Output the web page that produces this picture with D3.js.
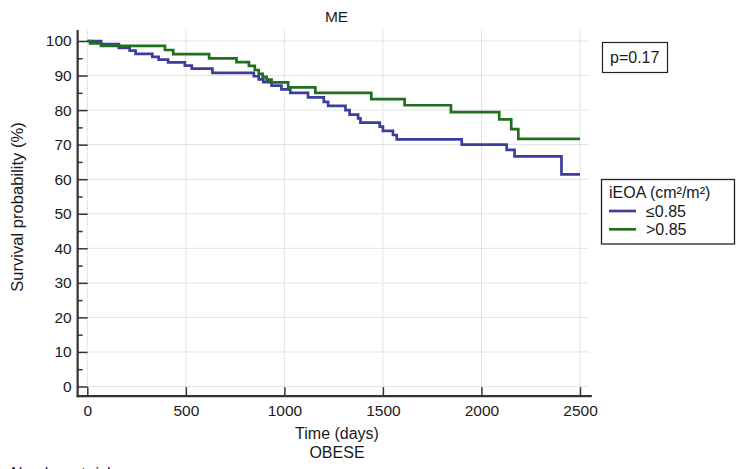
<!DOCTYPE html>
<html>
<head>
<meta charset="utf-8">
<script src="https://cdn.jsdelivr.net/npm/d3@7/dist/d3.min.js"></script>
<style>
  html, body { margin: 0; padding: 0; background: #fff; }
  svg { display: block; font-family: "Liberation Sans", Arial, sans-serif; }
</style>
</head>
<body>
<svg id="chart" width="737" height="469"></svg>
<script>
// ---- data ----
const title = "ME";
const subtitle = "OBESE";
const xTicks = [0, 500, 1000, 1500, 2000, 2500];
const yTicks = [0, 10, 20, 30, 40, 50, 60, 70, 80, 90, 100];
const yMinorTicks = [5, 15, 25, 35, 45, 55, 65, 75, 85, 95];
const seriesNames = ["\u22640.85", ">0.85"];
const lowTimes = [0, 70, 160, 215, 245, 330, 362, 410, 495, 530, 635, 845, 870, 893, 935, 985, 1030, 1120, 1200, 1222, 1310, 1331, 1374, 1386, 1484, 1500, 1551, 1570, 1900, 2128, 2168, 2406, 2500];
const lowSurv  = [100, 99.1, 98.0, 97.2, 96.3, 95.4, 94.6, 93.8, 92.9, 92.0, 90.8, 89.8, 88.9, 88.1, 87.1, 86.0, 85.0, 83.7, 82.4, 81.2, 80.0, 78.7, 77.6, 76.4, 75.2, 74.0, 72.8, 71.5, 70.0, 68.5, 66.6, 61.4, 61.4];
const highTimes = [0, 14, 70, 394, 436, 618, 757, 820, 850, 870, 890, 910, 935, 1019, 1157, 1441, 1610, 1845, 2090, 2151, 2187, 2500];
const highSurv  = [100, 99.3, 98.6, 97.4, 96.2, 95.0, 93.9, 92.8, 91.6, 90.5, 89.6, 88.8, 88.0, 86.6, 85.0, 83.2, 81.4, 79.4, 77.3, 74.5, 71.7, 71.7];
const pText = "p=0.17";
const legendTitle = "iEOA (cm\u00b2/m\u00b2)";
const colors = ["#3d3d9e", "#1f6f1f"];

const svg = d3.select("#chart");
const x = d3.scaleLinear().domain([0, 2500]).range([87.3, 580]);
const y = d3.scaleLinear().domain([0, 100]).range([386.5, 41]);

const axisColor = "#333";
const textColor = "#1a1a1a";
const xLeft = x(-49), xRight = x(2560);
const yBottom = y(-2.8), yTop = y(103.2);

// grid
const grid = svg.append("g").attr("stroke", "#c9c9c9").attr("stroke-width", 1).attr("stroke-dasharray", "1,1");
grid.selectAll("line.h").data(yTicks).join("line")
  .attr("x1", xLeft).attr("x2", x(2545)).attr("y1", d => y(d)).attr("y2", d => y(d));
grid.selectAll("line.v").data(xTicks).join("line")
  .attr("x1", d => x(d)).attr("x2", d => x(d)).attr("y1", yTop).attr("y2", yBottom);

// y axis
const yAxis = svg.append("g").attr("transform", `translate(${xLeft},0)`)
  .call(d3.axisLeft(y).tickValues(yTicks).tickSize(-10).tickPadding(6).tickFormat(d3.format("d")));
yAxis.select(".domain").remove();
yAxis.selectAll(".tick line").attr("stroke", axisColor).attr("stroke-width", 1.5);
yAxis.selectAll(".tick text").attr("font-size", "15.5px").attr("fill", textColor).attr("font-family", "Liberation Sans, Arial, sans-serif");
const yMinor = svg.append("g").attr("transform", `translate(${xLeft},0)`)
  .call(d3.axisLeft(y).tickValues(yMinorTicks).tickSize(-5).tickFormat(""));
yMinor.select(".domain").remove();
yMinor.selectAll(".tick line").attr("stroke", axisColor).attr("stroke-width", 1.5);

// x axis
const xAxis = svg.append("g").attr("transform", `translate(0,${yBottom})`)
  .call(d3.axisBottom(x).tickValues(xTicks).tickSize(-9).tickPadding(9).tickFormat(d3.format("d")));
xAxis.select(".domain").remove();
xAxis.selectAll(".tick line").attr("stroke", axisColor).attr("stroke-width", 1.5);
xAxis.selectAll(".tick text").attr("font-size", "15.5px").attr("fill", textColor).attr("font-family", "Liberation Sans, Arial, sans-serif");

// axis lines
svg.append("line").attr("x1", xLeft).attr("x2", xLeft).attr("y1", yTop).attr("y2", yBottom + 1)
  .attr("stroke", axisColor).attr("stroke-width", 2.2);
svg.append("line").attr("x1", xLeft - 1).attr("x2", xRight).attr("y1", yBottom).attr("y2", yBottom)
  .attr("stroke", axisColor).attr("stroke-width", 2.2);

// curves
const line = d3.line().curve(d3.curveStepAfter).x(d => x(d[0])).y(d => y(d[1]));
const lowData = lowTimes.map((t, i) => [t, lowSurv[i]]);
const highData = highTimes.map((t, i) => [t, highSurv[i]]);
[lowData, highData].forEach((dat, i) => {
  svg.append("path").datum(dat).attr("d", line)
    .attr("fill", "none").attr("stroke", colors[i]).attr("stroke-width", 2.7);
});

// texts
svg.append("text").attr("x", 336.5).attr("y", 21.5).attr("text-anchor", "middle")
  .attr("font-size", "15.5px").attr("fill", textColor).text(title);
svg.append("text").attr("transform", `translate(22.5,207) rotate(-90)`).attr("text-anchor", "middle")
  .attr("font-size", "16.6px").attr("fill", textColor).text("Survival probability (%)");
svg.append("text").attr("x", 337).attr("y", 438.5).attr("text-anchor", "middle")
  .attr("font-size", "16px").attr("fill", textColor).text("Time (days)");
svg.append("text").attr("x", 337).attr("y", 457.5).attr("text-anchor", "middle")
  .attr("font-size", "16px").attr("fill", textColor).text(subtitle);
svg.append("text").attr("x", 11).attr("y", 478.5)
  .attr("font-size", "16px").attr("fill", "#1b1b5c").text("Number at risk");

// p-value box
svg.append("rect").attr("x", 602.5).attr("y", 42.5).attr("width", 65).attr("height", 30)
  .attr("fill", "#fff").attr("stroke", "#222").attr("stroke-width", 1.2);
svg.append("text").attr("x", 610).attr("y", 63).attr("font-size", "16px").attr("fill", textColor).text(pText);

// legend
const lg = svg.append("g");
lg.append("rect").attr("x", 601.5).attr("y", 179.5).attr("width", 133).attr("height", 64.5)
  .attr("fill", "#fff").attr("stroke", "#222").attr("stroke-width", 1.3);
lg.append("text").attr("x", 609).attr("y", 198).attr("font-size", "16px").attr("fill", textColor).text(legendTitle);
seriesNames.forEach((n, i) => {
  const yy = 211 + i * 18.3;
  lg.append("line").attr("x1", 609).attr("x2", 636).attr("y1", yy).attr("y2", yy)
    .attr("stroke", colors[i]).attr("stroke-width", 2.7);
  lg.append("text").attr("x", 646).attr("y", yy + 5.5).attr("font-size", "16px").attr("fill", textColor).text(n);
});
</script>
</body>
</html>
